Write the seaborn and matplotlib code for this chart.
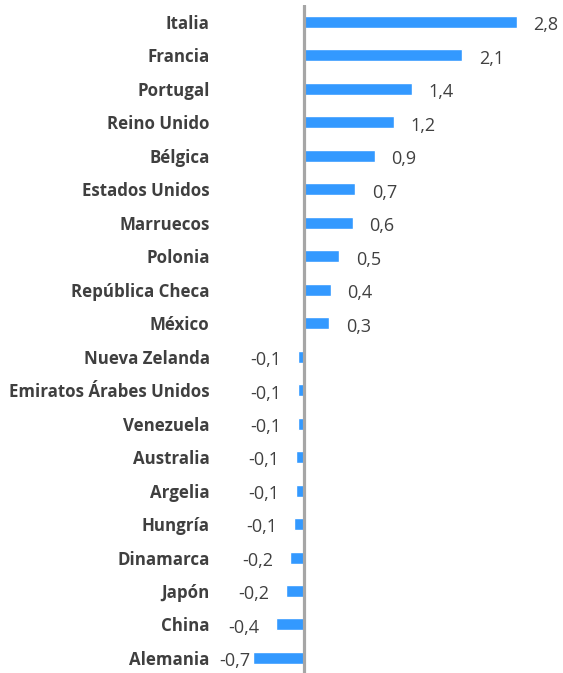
import matplotlib
matplotlib.use("Agg")
import matplotlib.pyplot as plt
import seaborn as sns
import pandas as pd

countries = ["Italia", "Francia", "Portugal", "Reino Unido", "Bélgica",
             "Estados Unidos", "Marruecos", "Polonia", "República Checa", "México",
             "Nueva Zelanda", "Emiratos Árabes Unidos", "Venezuela", "Australia",
             "Argelia", "Hungría", "Dinamarca", "Japón", "China", "Alemania"]
values = [2.80, 2.08, 1.42, 1.18, 0.93, 0.67, 0.64, 0.46, 0.35, 0.33,
          -0.075, -0.075, -0.075, -0.105, -0.105, -0.13, -0.18, -0.24, -0.37, -0.67]
value_labels = ["2,8", "2,1", "1,4", "1,2", "0,9", "0,7", "0,6", "0,5", "0,4", "0,3",
                "-0,1", "-0,1", "-0,1", "-0,1", "-0,1", "-0,1", "-0,2", "-0,2", "-0,4", "-0,7"]

df = pd.DataFrame({"country": countries, "value": values})

sns.set_theme(style="white")
plt.rcParams["font.family"] = ["Open Sans", "DejaVu Sans"]

W, H = 563, 673
fig = plt.figure(figsize=(W / 100, H / 100), dpi=100)
ax = fig.add_axes([250 / W, 0, 313 / W, 668 / H])

sns.barplot(data=df, x="value", y="country", orient="h", color="#3399FF",
            saturation=1, width=0.36, ax=ax)

xmin, xmax = -0.7105, 3.408
ax.set_xlim(xmin, xmax)
ax.set_ylim(19.45, -0.508)
ax.axvline(0, color="#A6A6A6", lw=2.3, zorder=3)

for s in ax.spines.values():
    s.set_visible(False)
ax.set_xticks([])
ax.set_xlabel("")
ax.set_ylabel("")
ax.tick_params(axis="y", length=0, pad=29)
for lab in ax.get_yticklabels():
    lab.set_fontweight("bold")
    lab.set_fontsize(12.2)
    lab.set_color("#3F3F3F")

gap = 0.22
for i, (v, t) in enumerate(zip(values, value_labels)):
    if v >= 0:
        ax.text(v + gap, i + 0.1, t, ha="left", va="center", fontsize=13,
                color="#404040", clip_on=False)
    else:
        ax.text(max(v - gap, xmin), i + 0.1, t, ha="right", va="center",
                fontsize=13, color="#404040", clip_on=False)

fig.savefig("out.png", dpi=100)
